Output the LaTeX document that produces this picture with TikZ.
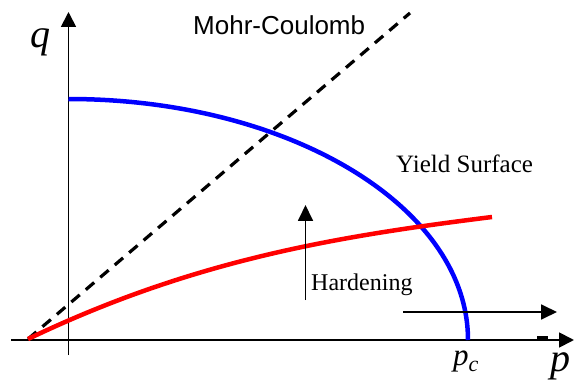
\documentclass[tikz,border=0pt]{standalone}
\usepackage{fontspec}
\setmainfont{Liberation Serif}
\newfontfamily\arialf{Liberation Sans}
\usetikzlibrary{arrows.meta}
\begin{document}
\begin{tikzpicture}[x=1pt,y=1pt,
  axis/.style={line width=1.8pt,-{Triangle[length=15pt,width=15pt]}},
  arr/.style={line width=1.8pt,-{Triangle[length=16pt,width=15pt]}},
  lbl/.style={inner sep=0pt,anchor=base west}]
\useasboundingbox (0,0) rectangle (574,381);
% axes
\coordinate (xs) at (11,41);
\coordinate (xe) at (574,41);
\coordinate (ys) at (68.5,26);
\coordinate (ye) at (68.5,369);
\draw[axis] (xs) -- (xe);
\draw[axis] (ys) -- (ye);
\fill (537,42) rectangle (548,45.5);
% Mohr-Coulomb line
\coordinate (o) at (28,42);
\coordinate (mc) at (410,368);
\draw[line width=3.2pt,dash pattern=on 11pt off 8pt] (o) -- (mc);
% yield surface
\coordinate (ys0) at (68.5,282);
\draw[blue,line width=4.5pt] (ys0) arc[start angle=90,end angle=0,x radius=399.5,y radius=241];
% hardening curve
\coordinate (r0) at (28,42);
\coordinate (r3) at (492,164);
\draw[red,line width=4.5pt] (r0) .. controls (195,122) and (340,145) .. (r3);
% arrows
\coordinate (h1) at (305.5,81);
\coordinate (h2) at (305.5,176);
\draw[arr] (h1) -- (h2);
\coordinate (a1) at (403,69);
\coordinate (a2) at (557,69);
\draw[arr] (a1) -- (a2);
% labels
\node[lbl] (mclbl) at (193,346) {\arialf\fontsize{26}{30}\selectfont Mohr-Coulomb};
\node[lbl] (yslbl) at (396,208) {\fontsize{25}{30}\selectfont Yield Surface};
\node[lbl] (hlbl) at (311,90) {\fontsize{24}{28}\selectfont Hardening};
\node[lbl] (qlbl) at (30,333) {\fontsize{40}{44}\selectfont\itshape q};
\node[lbl] (plbl) at (550,10) {\fontsize{40}{44}\selectfont\itshape p};
\node[lbl] (pclbl) at (453,16) {\fontsize{31}{34}\selectfont\itshape p\raisebox{-6pt}{\fontsize{22}{24}\selectfont c}};
\end{tikzpicture}
\end{document}
